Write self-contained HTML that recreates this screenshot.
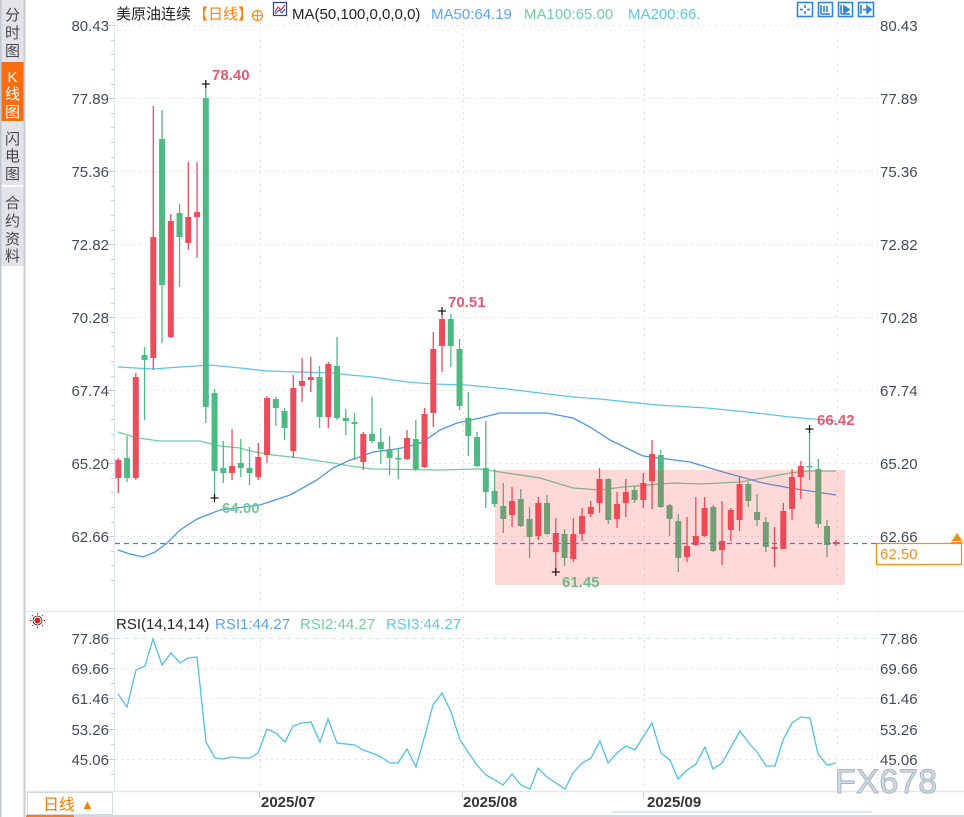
<!DOCTYPE html>
<html><head><meta charset="utf-8"><style>
html,body{margin:0;padding:0;background:#fff;width:964px;height:817px;overflow:hidden}
svg{display:block}
text{font-family:"Liberation Sans","Noto Sans CJK SC",sans-serif}
</style></head><body>
<svg width="964" height="817" viewBox="0 0 964 817" xmlns="http://www.w3.org/2000/svg">
<rect x="0" y="0" width="964" height="817" fill="#fff"/>
<!-- sidebar -->
<rect x="0" y="0" width="25" height="817" fill="#fff"/>
<rect x="0" y="0" width="25" height="62" fill="#e2e4e9"/>
<rect x="0" y="62" width="25" height="59" fill="#f96c10"/>
<rect x="0" y="122" width="25" height="63" fill="#e2e4e9"/>
<rect x="0" y="187" width="25" height="79" fill="#e2e4e9"/>
<line x1="0.8" y1="0" x2="0.8" y2="817" stroke="#c4c8cf" stroke-width="1.6"/>
<line x1="24.5" y1="0" x2="24.5" y2="817" stroke="#c9cdd4" stroke-width="2"/>
<g font-size="15" fill="#4a4a4a" text-anchor="middle">
<text x="12.5" y="20">分</text><text x="12.5" y="38">时</text><text x="12.5" y="56">图</text>
<text x="12.5" y="144">闪</text><text x="12.5" y="161">电</text><text x="12.5" y="179">图</text>
<text x="12.5" y="208">合</text><text x="12.5" y="226">约</text><text x="12.5" y="244">资</text><text x="12.5" y="261">料</text>
</g>
<g font-size="15" fill="#fff" text-anchor="middle">
<text x="12.5" y="82" font-family="Liberation Serif,serif" font-size="15">K</text><text x="12.5" y="99">线</text><text x="12.5" y="117">图</text>
</g>

<!-- header -->
<text x="116" y="19" font-size="15" fill="#222">美原油连续</text>
<text x="193" y="19" font-size="15" fill="#ff7f0e">【日线】</text>
<circle cx="257.5" cy="15.5" r="5" fill="none" stroke="#ff8a1a" stroke-width="1.2"/>
<line x1="252.5" y1="15.5" x2="262.5" y2="15.5" stroke="#ff8a1a" stroke-width="1.2"/>
<line x1="257.5" y1="10.5" x2="257.5" y2="20.5" stroke="#ff8a1a" stroke-width="1.2"/>
<rect x="273.5" y="2.5" width="13" height="13" fill="#fff" stroke="#2a3fa8" stroke-width="1.2"/>
<polyline points="275,12 278,7 281,10 285,5" fill="none" stroke="#e03040" stroke-width="1.2"/>
<polyline points="275,14 279,10 282,13 285,9" fill="none" stroke="#3050d0" stroke-width="1"/>
<text x="292" y="19" font-size="15" fill="#222">MA(50,100,0,0,0,0)</text>
<text x="431" y="19" font-size="15" fill="#5aa3fb">MA50:64.19</text>
<text x="524" y="19" font-size="15" fill="#6cd39f">MA100:65.00</text>
<text x="628" y="19" font-size="15" fill="#5ec6ea">MA200:66.</text>
<!-- top-right icons -->
<g fill="none" stroke="#2f84dc" stroke-width="1.6">
<rect x="797.5" y="2.5" width="15" height="14"/>
<rect x="818.5" y="2.5" width="14" height="14"/>
<rect x="838.5" y="2.5" width="14" height="14"/>
<rect x="858.5" y="2.5" width="15" height="14"/>
<line x1="805" y1="5" x2="805" y2="8"/><line x1="805" y1="11" x2="805" y2="14"/><line x1="800" y1="9.5" x2="803" y2="9.5"/><line x1="807" y1="9.5" x2="810" y2="9.5"/>
<line x1="821" y1="5" x2="821" y2="14"/><line x1="821" y1="14" x2="830" y2="14"/><line x1="824" y1="6" x2="824" y2="12"/><line x1="827" y1="6" x2="827" y2="12"/>
<line x1="841" y1="5" x2="841" y2="14"/><line x1="841" y1="14" x2="850" y2="14"/><polygon points="844,6 849,9.5 844,13" fill="#2f84dc"/>
<line x1="861" y1="5" x2="861" y2="14"/><line x1="863" y1="9.5" x2="870" y2="9.5"/><polygon points="867,6 871,9.5 867,13" fill="#2f84dc"/>
</g>

<!-- axes lines -->
<line x1="114.5" y1="22" x2="114.5" y2="791" stroke="#dfe5ee" stroke-width="1"/>
<line x1="26" y1="611.5" x2="964" y2="611.5" stroke="#e6eaf0" stroke-width="1.5"/>
<line x1="26" y1="791.5" x2="964" y2="791.5" stroke="#e2e7ee" stroke-width="1.5"/>
<line x1="877.5" y1="22" x2="877.5" y2="791" stroke="#d8dde5" stroke-width="1" stroke-dasharray="1,3"/>

<!-- grid main -->
<g stroke="#dfe3ea" stroke-width="1" stroke-dasharray="2,4">
<line x1="115" y1="25.5" x2="877" y2="25.5"/>
<line x1="115" y1="98.5" x2="877" y2="98.5"/>
<line x1="115" y1="171.5" x2="877" y2="171.5"/>
<line x1="115" y1="244.5" x2="877" y2="244.5"/>
<line x1="115" y1="317.5" x2="877" y2="317.5"/>
<line x1="115" y1="390.5" x2="877" y2="390.5"/>
<line x1="115" y1="463.5" x2="877" y2="463.5"/>
<line x1="115" y1="536.5" x2="877" y2="536.5"/>
<line x1="115" y1="668.5" x2="877" y2="668.5"/>
<line x1="115" y1="698.5" x2="877" y2="698.5"/>
<line x1="115" y1="729.5" x2="877" y2="729.5"/>
<line x1="115" y1="759.5" x2="877" y2="759.5"/>
<line x1="260.5" y1="22" x2="260.5" y2="791"/>
<line x1="463.5" y1="22" x2="463.5" y2="791"/>
<line x1="644.5" y1="22" x2="644.5" y2="791"/>
<line x1="837.5" y1="22" x2="837.5" y2="791"/>
</g>
<line x1="115" y1="638.5" x2="877" y2="638.5" stroke="#d3e8f3" stroke-width="1" stroke-dasharray="5,4"/>

<!-- left axis ticks -->
<g stroke="#c9ced6" stroke-width="1">
<line x1="107" y1="25.5" x2="114" y2="25.5"/><line x1="107" y1="98.5" x2="114" y2="98.5"/><line x1="107" y1="171.5" x2="114" y2="171.5"/><line x1="107" y1="244.5" x2="114" y2="244.5"/><line x1="107" y1="317.5" x2="114" y2="317.5"/><line x1="107" y1="390.5" x2="114" y2="390.5"/><line x1="107" y1="463.5" x2="114" y2="463.5"/><line x1="107" y1="536.5" x2="114" y2="536.5"/>
<line x1="111" y1="40.5" x2="114" y2="40.5"/><line x1="111" y1="54.5" x2="114" y2="54.5"/><line x1="111" y1="69.5" x2="114" y2="69.5"/><line x1="111" y1="84.5" x2="114" y2="84.5"/>
<line x1="111" y1="113.5" x2="114" y2="113.5"/><line x1="111" y1="127.5" x2="114" y2="127.5"/><line x1="111" y1="142.5" x2="114" y2="142.5"/><line x1="111" y1="157.5" x2="114" y2="157.5"/>
<line x1="111" y1="186.5" x2="114" y2="186.5"/><line x1="111" y1="200.5" x2="114" y2="200.5"/><line x1="111" y1="215.5" x2="114" y2="215.5"/><line x1="111" y1="230.5" x2="114" y2="230.5"/>
<line x1="111" y1="259.5" x2="114" y2="259.5"/><line x1="111" y1="273.5" x2="114" y2="273.5"/><line x1="111" y1="288.5" x2="114" y2="288.5"/><line x1="111" y1="303.5" x2="114" y2="303.5"/>
<line x1="111" y1="332.5" x2="114" y2="332.5"/><line x1="111" y1="346.5" x2="114" y2="346.5"/><line x1="111" y1="361.5" x2="114" y2="361.5"/><line x1="111" y1="376.5" x2="114" y2="376.5"/>
<line x1="111" y1="405.5" x2="114" y2="405.5"/><line x1="111" y1="419.5" x2="114" y2="419.5"/><line x1="111" y1="434.5" x2="114" y2="434.5"/><line x1="111" y1="449.5" x2="114" y2="449.5"/>
<line x1="111" y1="478.5" x2="114" y2="478.5"/><line x1="111" y1="492.5" x2="114" y2="492.5"/><line x1="111" y1="507.5" x2="114" y2="507.5"/><line x1="111" y1="522.5" x2="114" y2="522.5"/>
<line x1="111" y1="551.5" x2="114" y2="551.5"/><line x1="111" y1="565.5" x2="114" y2="565.5"/><line x1="111" y1="580.5" x2="114" y2="580.5"/>
<line x1="107" y1="638.5" x2="114" y2="638.5"/><line x1="107" y1="668.5" x2="114" y2="668.5"/><line x1="107" y1="698.5" x2="114" y2="698.5"/><line x1="107" y1="729.5" x2="114" y2="729.5"/><line x1="107" y1="759.5" x2="114" y2="759.5"/>
<line x1="111" y1="653.5" x2="114" y2="653.5"/><line x1="111" y1="683.5" x2="114" y2="683.5"/><line x1="111" y1="713.5" x2="114" y2="713.5"/><line x1="111" y1="744.5" x2="114" y2="744.5"/><line x1="111" y1="774.5" x2="114" y2="774.5"/>
<line x1="259.5" y1="792" x2="259.5" y2="798"/><line x1="462.5" y1="792" x2="462.5" y2="798"/><line x1="643.5" y1="792" x2="643.5" y2="798"/>
</g>

<!-- axis labels -->
<g font-size="15" fill="#444a58" text-anchor="end">
<text x="109" y="31">80.43</text><text x="109" y="104">77.89</text><text x="109" y="177">75.36</text><text x="109" y="250">72.82</text><text x="109" y="323">70.28</text><text x="109" y="396">67.74</text><text x="109" y="469">65.20</text><text x="109" y="542">62.66</text>
<text x="109" y="644">77.86</text><text x="109" y="674">69.66</text><text x="109" y="704">61.46</text><text x="109" y="735">53.26</text><text x="109" y="765">45.06</text>
</g>
<g font-size="15" fill="#444a58">
<text x="880" y="31">80.43</text><text x="880" y="104">77.89</text><text x="880" y="177">75.36</text><text x="880" y="250">72.82</text><text x="880" y="323">70.28</text><text x="880" y="396">67.74</text><text x="880" y="469">65.20</text><text x="880" y="542">62.66</text>
<text x="880" y="644">77.86</text><text x="880" y="674">69.66</text><text x="880" y="704">61.46</text><text x="880" y="735">53.26</text><text x="880" y="765">45.06</text>
</g>

<!-- MA lines -->
<polyline fill="none" stroke="#5ec4ea" stroke-width="1.3" points="118,367 153,369 180,367 210,365 240,368 267,371 300,372 333,373 350,375 373,377 407,382 433,384 467,385 507,389 540,393 573,397 600,399 657,405 707,408 757,413 790,417 836,421"/>
<polyline fill="none" stroke="#6dcf99" stroke-width="1.3" points="118,432 137,438 160,441 200,441 220,446 240,448 250,451 273,455 300,458 333,463 350,466 373,469 440,470 480,469 500,472 540,478 573,488 600,490 623,487 673,483 700,484 740,482 763,478 790,473 807,471 836,471"/>
<polyline fill="none" stroke="#4b96ee" stroke-width="1.3" points="118,550 130,554 143,557 155,552 167,543 180,530 197,519 220,510 260,505 290,495 317,480 333,468 350,460 357,458 373,452 390,450 407,447 423,442 440,430 457,423 480,418 500,413 547,413 573,418 590,427 610,440 643,456 690,462 723,472 763,483 790,488 836,495"/>

<!-- red wicks -->
<g stroke="#eb4d5c" stroke-width="1.3">
<line x1="118.3" y1="458" x2="118.3" y2="493"/><line x1="135.8" y1="373" x2="135.8" y2="480"/><line x1="153.3" y1="106" x2="153.3" y2="370"/><line x1="170.8" y1="214" x2="170.8" y2="338"/><line x1="188.3" y1="162" x2="188.3" y2="250"/><line x1="197.05" y1="162" x2="197.05" y2="258"/><line x1="232.05" y1="429" x2="232.05" y2="480"/><line x1="258.3" y1="443" x2="258.3" y2="480"/><line x1="267.05" y1="396" x2="267.05" y2="463"/><line x1="293.3" y1="375" x2="293.3" y2="458"/><line x1="302.05" y1="358" x2="302.05" y2="402"/><line x1="310.8" y1="357" x2="310.8" y2="392"/><line x1="328.3" y1="362" x2="328.3" y2="428"/><line x1="363.3" y1="432" x2="363.3" y2="470"/><line x1="407.05" y1="430" x2="407.05" y2="460"/><line x1="424.55" y1="408" x2="424.55" y2="468"/><line x1="433.3" y1="332" x2="433.3" y2="427"/><line x1="442.05" y1="311" x2="442.05" y2="372"/><line x1="512.05" y1="487" x2="512.05" y2="527"/><line x1="538.3" y1="497" x2="538.3" y2="540"/><line x1="555.8" y1="518" x2="555.8" y2="572"/><line x1="573.3" y1="518" x2="573.3" y2="562"/><line x1="582.05" y1="508" x2="582.05" y2="541"/><line x1="590.8" y1="501" x2="590.8" y2="517"/><line x1="599.55" y1="468" x2="599.55" y2="513"/><line x1="617.05" y1="492" x2="617.05" y2="528"/><line x1="625.8" y1="479" x2="625.8" y2="517"/><line x1="643.3" y1="473" x2="643.3" y2="508"/><line x1="652.05" y1="440" x2="652.05" y2="509"/><line x1="687.05" y1="517" x2="687.05" y2="562"/><line x1="695.8" y1="497" x2="695.8" y2="546"/><line x1="704.55" y1="497" x2="704.55" y2="537"/><line x1="722.05" y1="501" x2="722.05" y2="565"/><line x1="730.8" y1="508" x2="730.8" y2="541"/><line x1="739.55" y1="477" x2="739.55" y2="531"/><line x1="774.55" y1="527" x2="774.55" y2="567"/><line x1="783.3" y1="503" x2="783.3" y2="549"/><line x1="792.05" y1="469" x2="792.05" y2="520"/><line x1="800.8" y1="461" x2="800.8" y2="499"/><line x1="835.8" y1="540" x2="835.8" y2="546"/>
</g>
<g fill="#eb4d5c">
<rect x="115.3" y="460" width="6" height="18"/><rect x="132.8" y="377" width="6" height="101"/><rect x="150.3" y="237" width="6" height="121"/><rect x="167.8" y="221" width="6" height="116"/><rect x="185.3" y="217" width="6" height="26"/><rect x="194.05" y="212" width="6" height="5"/><rect x="229.05" y="466" width="6" height="7"/><rect x="255.3" y="457" width="6" height="20"/><rect x="264.05" y="398" width="6" height="57"/><rect x="290.3" y="388" width="6" height="63"/><rect x="299.05" y="381" width="6" height="5"/><rect x="307.8" y="377" width="6" height="3"/><rect x="325.3" y="364" width="6" height="53"/><rect x="360.3" y="434" width="6" height="28"/><rect x="404.05" y="438" width="6" height="21"/><rect x="421.55" y="414" width="6" height="53"/><rect x="430.3" y="349" width="6" height="64"/><rect x="439.05" y="319" width="6" height="27"/><rect x="509.05" y="501" width="6" height="14"/><rect x="535.3" y="503" width="6" height="33"/><rect x="552.8" y="533" width="6" height="19"/><rect x="570.3" y="534" width="6" height="25"/><rect x="579.05" y="516" width="6" height="18"/><rect x="587.8" y="507" width="6" height="7"/><rect x="596.55" y="479" width="6" height="24"/><rect x="614.05" y="504" width="6" height="15"/><rect x="622.8" y="492" width="6" height="11"/><rect x="640.3" y="483" width="6" height="17"/><rect x="649.05" y="454" width="6" height="27"/><rect x="684.05" y="546" width="6" height="11"/><rect x="692.8" y="536" width="6" height="9"/><rect x="701.55" y="508" width="6" height="28"/><rect x="719.05" y="541" width="6" height="9"/><rect x="727.8" y="510" width="6" height="20"/><rect x="736.55" y="484" width="6" height="36"/><rect x="771.55" y="547" width="6" height="2"/><rect x="780.3" y="511" width="6" height="38"/><rect x="789.05" y="477" width="6" height="32"/><rect x="797.8" y="466" width="6" height="11"/><rect x="832.8" y="542" width="6" height="2"/>
</g>
<!-- green wicks -->
<g stroke="#4fb983" stroke-width="1.3">
<line x1="127.05" y1="436" x2="127.05" y2="482"/><line x1="144.55" y1="347" x2="144.55" y2="420"/><line x1="162.05" y1="110" x2="162.05" y2="343"/><line x1="179.55" y1="204" x2="179.55" y2="287"/><line x1="205.8" y1="84" x2="205.8" y2="423"/><line x1="214.55" y1="389" x2="214.55" y2="498"/><line x1="223.3" y1="441" x2="223.3" y2="483"/><line x1="240.8" y1="439" x2="240.8" y2="477"/><line x1="249.55" y1="447" x2="249.55" y2="485"/><line x1="275.8" y1="397" x2="275.8" y2="426"/><line x1="284.55" y1="408" x2="284.55" y2="440"/><line x1="319.55" y1="366" x2="319.55" y2="428"/><line x1="337.05" y1="337" x2="337.05" y2="420"/><line x1="345.8" y1="409" x2="345.8" y2="435"/><line x1="354.55" y1="413" x2="354.55" y2="460"/><line x1="372.05" y1="397" x2="372.05" y2="443"/><line x1="380.8" y1="428" x2="380.8" y2="464"/><line x1="389.55" y1="436" x2="389.55" y2="475"/><line x1="398.3" y1="448" x2="398.3" y2="479"/><line x1="415.8" y1="420" x2="415.8" y2="471"/><line x1="450.8" y1="314" x2="450.8" y2="367"/><line x1="459.55" y1="339" x2="459.55" y2="410"/><line x1="468.3" y1="392" x2="468.3" y2="456"/><line x1="477.05" y1="432" x2="477.05" y2="467"/><line x1="485.8" y1="421" x2="485.8" y2="508"/><line x1="494.55" y1="469" x2="494.55" y2="507"/><line x1="503.3" y1="483" x2="503.3" y2="533"/><line x1="520.8" y1="489" x2="520.8" y2="527"/><line x1="529.55" y1="507" x2="529.55" y2="558"/><line x1="547.05" y1="495" x2="547.05" y2="535"/><line x1="564.55" y1="529" x2="564.55" y2="566"/><line x1="608.3" y1="478" x2="608.3" y2="524"/><line x1="634.55" y1="486" x2="634.55" y2="503"/><line x1="660.8" y1="450" x2="660.8" y2="508"/><line x1="669.55" y1="504" x2="669.55" y2="536"/><line x1="678.3" y1="514" x2="678.3" y2="572"/><line x1="713.3" y1="505" x2="713.3" y2="552"/><line x1="748.3" y1="482" x2="748.3" y2="507"/><line x1="757.05" y1="494" x2="757.05" y2="526"/><line x1="765.8" y1="517" x2="765.8" y2="552"/><line x1="809.55" y1="429" x2="809.55" y2="480"/><line x1="818.3" y1="459" x2="818.3" y2="528"/><line x1="827.05" y1="520" x2="827.05" y2="557"/>
</g>
<g fill="#4fb983">
<rect x="124.05" y="458" width="6" height="20"/><rect x="141.55" y="355" width="6" height="5"/><rect x="159.05" y="139" width="6" height="146"/><rect x="176.55" y="213" width="6" height="24"/><rect x="202.8" y="98" width="6" height="309"/><rect x="211.55" y="393" width="6" height="78"/><rect x="220.3" y="468" width="6" height="5"/><rect x="237.8" y="463" width="6" height="5"/><rect x="246.55" y="468" width="6" height="5"/><rect x="272.8" y="399" width="6" height="9"/><rect x="281.55" y="411" width="6" height="17"/><rect x="316.55" y="377" width="6" height="40"/><rect x="334.05" y="366" width="6" height="52"/><rect x="342.8" y="418" width="6" height="3"/><rect x="351.55" y="422" width="6" height="2"/><rect x="369.05" y="434" width="6" height="7"/><rect x="377.8" y="442" width="6" height="7"/><rect x="386.55" y="449" width="6" height="9"/><rect x="395.3" y="458" width="6" height="1.5"/><rect x="412.8" y="439" width="6" height="30"/><rect x="447.8" y="319" width="6" height="27"/><rect x="456.55" y="349" width="6" height="57"/><rect x="465.3" y="418" width="6" height="18"/><rect x="474.05" y="437" width="6" height="29"/><rect x="482.8" y="468" width="6" height="24"/><rect x="491.55" y="491" width="6" height="13"/><rect x="500.3" y="506" width="6" height="13"/><rect x="517.8" y="499" width="6" height="27"/><rect x="526.55" y="519" width="6" height="18"/><rect x="544.05" y="503" width="6" height="31"/><rect x="561.55" y="534" width="6" height="24"/><rect x="605.3" y="479" width="6" height="41"/><rect x="631.55" y="490" width="6" height="10"/><rect x="657.8" y="455" width="6" height="52"/><rect x="666.55" y="505" width="6" height="14"/><rect x="675.3" y="521" width="6" height="37"/><rect x="710.3" y="507" width="6" height="44"/><rect x="745.3" y="484" width="6" height="17"/><rect x="754.05" y="512" width="6" height="8"/><rect x="762.8" y="522" width="6" height="25"/><rect x="806.55" y="466" width="6" height="1.5"/><rect x="815.3" y="469" width="6" height="55"/><rect x="824.05" y="526" width="6" height="19"/>
</g>

<!-- pink box -->
<rect x="495" y="470" width="350" height="115" fill="rgba(255,60,60,0.2)"/>

<!-- current price dashed -->
<line x1="115" y1="543.5" x2="877" y2="543.5" stroke="#3d80e8" stroke-width="1.2" stroke-dasharray="5,4"/>
<rect x="876.5" y="543.5" width="85" height="21" fill="#fff" stroke="#ff8c1a" stroke-width="1.2"/>
<text x="880" y="559" font-size="15" fill="#ff8c1a">62.50</text>
<polygon points="957,533 951.5,541 962.5,541" fill="#ff8c1a"/>
<line x1="951" y1="542.5" x2="963" y2="542.5" stroke="#ff8c1a" stroke-width="1.2"/>

<!-- crosses -->
<g stroke="#111" stroke-width="1.2">
<line x1="201.8" y1="84" x2="209.8" y2="84"/><line x1="205.8" y1="80" x2="205.8" y2="88"/>
<line x1="210.5" y1="498" x2="218.5" y2="498"/><line x1="214.5" y1="494" x2="214.5" y2="502"/>
<line x1="438" y1="311" x2="446" y2="311"/><line x1="442" y1="307" x2="442" y2="315"/>
<line x1="551.8" y1="572" x2="559.8" y2="572"/><line x1="555.8" y1="568" x2="555.8" y2="576"/>
<line x1="805.5" y1="429" x2="813.5" y2="429"/><line x1="809.5" y1="425" x2="809.5" y2="433"/>
</g>
<!-- price labels -->
<g font-size="15" font-weight="bold">
<text x="212" y="80" fill="#ef5670">78.40</text>
<text x="448" y="307" fill="#ef5670">70.51</text>
<text x="817" y="425" fill="#ef5670">66.42</text>
<text x="562" y="587" fill="#6cba8a">61.45</text>
<text x="222" y="513" fill="#7cc59a">64.00</text>
</g>

<!-- RSI header -->
<circle cx="37.5" cy="620.5" r="3" fill="#e01e1e"/>
<circle cx="37.5" cy="620.5" r="4.5" fill="none" stroke="#222" stroke-width="0.8"/>
<g stroke="#e01e1e" stroke-width="1">
<line x1="37.5" y1="613" x2="37.5" y2="614.5"/><line x1="37.5" y1="626.5" x2="37.5" y2="628"/><line x1="30" y1="620.5" x2="31.5" y2="620.5"/><line x1="43.5" y1="620.5" x2="45" y2="620.5"/>
<line x1="32" y1="615" x2="33" y2="616"/><line x1="42" y1="625" x2="43" y2="626"/><line x1="43" y1="615" x2="42" y2="616"/><line x1="33" y1="625" x2="32" y2="626"/>
</g>
<text x="116" y="629" font-size="15" fill="#222">RSI(14,14,14)</text>
<text x="215" y="629" font-size="15" fill="#5aa0fb">RSI1:44.27</text>
<text x="300" y="629" font-size="15" fill="#6fd09a">RSI2:44.27</text>
<text x="386" y="629" font-size="15" fill="#5cc8e8">RSI3:44.27</text>

<!-- RSI line -->
<polyline fill="none" stroke="#4fc0ea" stroke-width="1.3" points="118,694 127,707 136,670 145,666 153,639 162,665 171,653 180,663 188,658 197,657 206,742 215,758 223,759 232,757 241,758 250,758 258,753 267,729 276,733 285,742 293,726 302,723 311,722 320,742 328,719 337,743 346,744 355,745 363,750 372,753 381,757 390,763 398,763 407,749 416,767 425,735 433,705 442,693 451,712 460,740 468,752 477,765 486,775 495,780 503,785 512,774 521,785 530,789 538,768 547,777 556,783 565,789 573,773 582,763 591,758 600,741 608,763 617,753 626,746 635,750 643,737 652,723 661,753 670,760 678,779 687,770 696,764 705,747 713,769 722,763 731,747 740,731 748,742 757,752 766,766 775,766 783,740 792,723 801,717 810,718 818,754 827,765 836,763"/>

<!-- watermark -->
<text x="835" y="793" font-size="34" fill="#cfdbe8" stroke="#a9b4c0" stroke-width="1" letter-spacing="0.5">FX678</text>

<!-- bottom axis -->
<rect x="27.5" y="792.5" width="85" height="22" fill="#fff" stroke="#d3d9e1" stroke-width="1"/>
<text x="43" y="810" font-size="16" fill="#ff7a00">日线</text>
<text x="81" y="809" font-size="13" fill="#ff7a00">▲</text>
<g font-size="15" font-weight="bold" fill="#333">
<text x="261" y="807">2025/07</text>
<text x="463" y="807">2025/08</text>
<text x="647" y="807">2025/09</text>
</g>
<line x1="612" y1="812" x2="872" y2="812" stroke="#dfe7f1" stroke-width="2"/>
<line x1="26" y1="816" x2="964" y2="816" stroke="#d5d9df" stroke-width="2"/>
<line x1="26" y1="816" x2="74" y2="816" stroke="#ff7a1a" stroke-width="2"/>
</svg>
</body></html>
